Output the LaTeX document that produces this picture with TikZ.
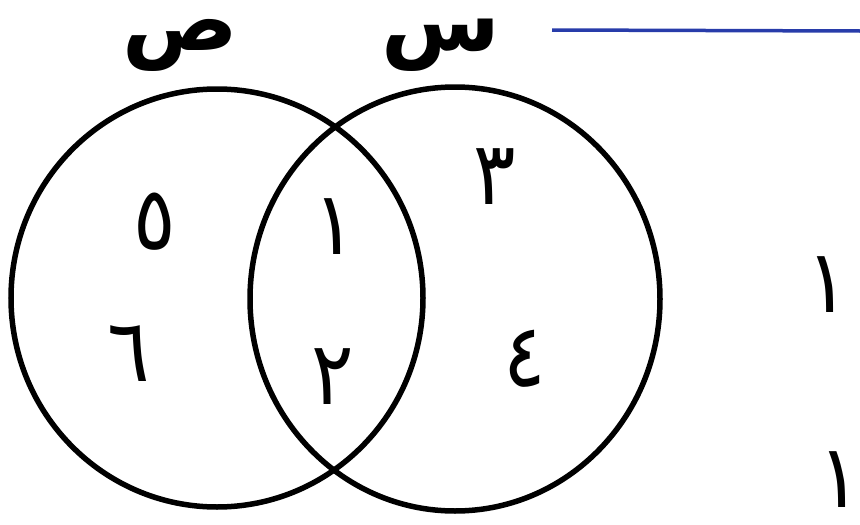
\documentclass[tikz,border=0pt]{standalone}
\usepackage{fontspec}
\newfontfamily\arabicfont[Script=Arabic]{DejaVu Sans Bold}
\newfontfamily\digitfont[Script=Arabic,FakeStretch=0.9]{DejaVu Sans}
\TeXXeTstate=1
\definecolor{lineblue}{RGB}{40,60,170}
\begin{document}
\begin{tikzpicture}[x=1pt,y=-1pt,
  ring/.style={draw=black,line width=5.5pt},
  num/.style={inner sep=0pt,anchor=base,text height=50pt,text depth=0pt,
    font=\digitfont\fontsize{88}{90}\selectfont},
  setname/.style={inner sep=0pt,anchor=base,text height=34pt,text depth=20pt,
    font=\arabicfont\fontsize{86}{88}\selectfont}]
\useasboundingbox[fill=white] (0,0) rectangle (860,525);
\draw[ring] (217,298) ellipse [x radius=206,y radius=209];
\draw[ring] (455,299) ellipse [x radius=205,y radius=212];
\coordinate (lineA) at (552,30);
\coordinate (lineB) at (860,31);
\draw[lineblue,line width=3.5pt] (lineA) -- (lineB);
\node[setname] (Y) at (180,50) {\beginR ص\endR};
\node[setname] (X) at (441,50) {\beginR س\endR};
\node[num] (n5) at (155,249) {\beginR ٥\endR};
\node[num] (n1) at (335,254) {\beginR ١\endR};
\node[num] (n3) at (495,204) {\beginR ٣\endR};
\node[num] (n6) at (129,381) {\beginR ٦\endR};
\node[num] (n2) at (333,404) {\beginR ٢\endR};
\node[num] (n4) at (525,386) {\beginR ٤\endR};
\node[num] (r1) at (828,312) {\beginR ١\endR};
\node[num] (r2) at (840,507) {\beginR ١\endR};
\end{tikzpicture}
\end{document}
